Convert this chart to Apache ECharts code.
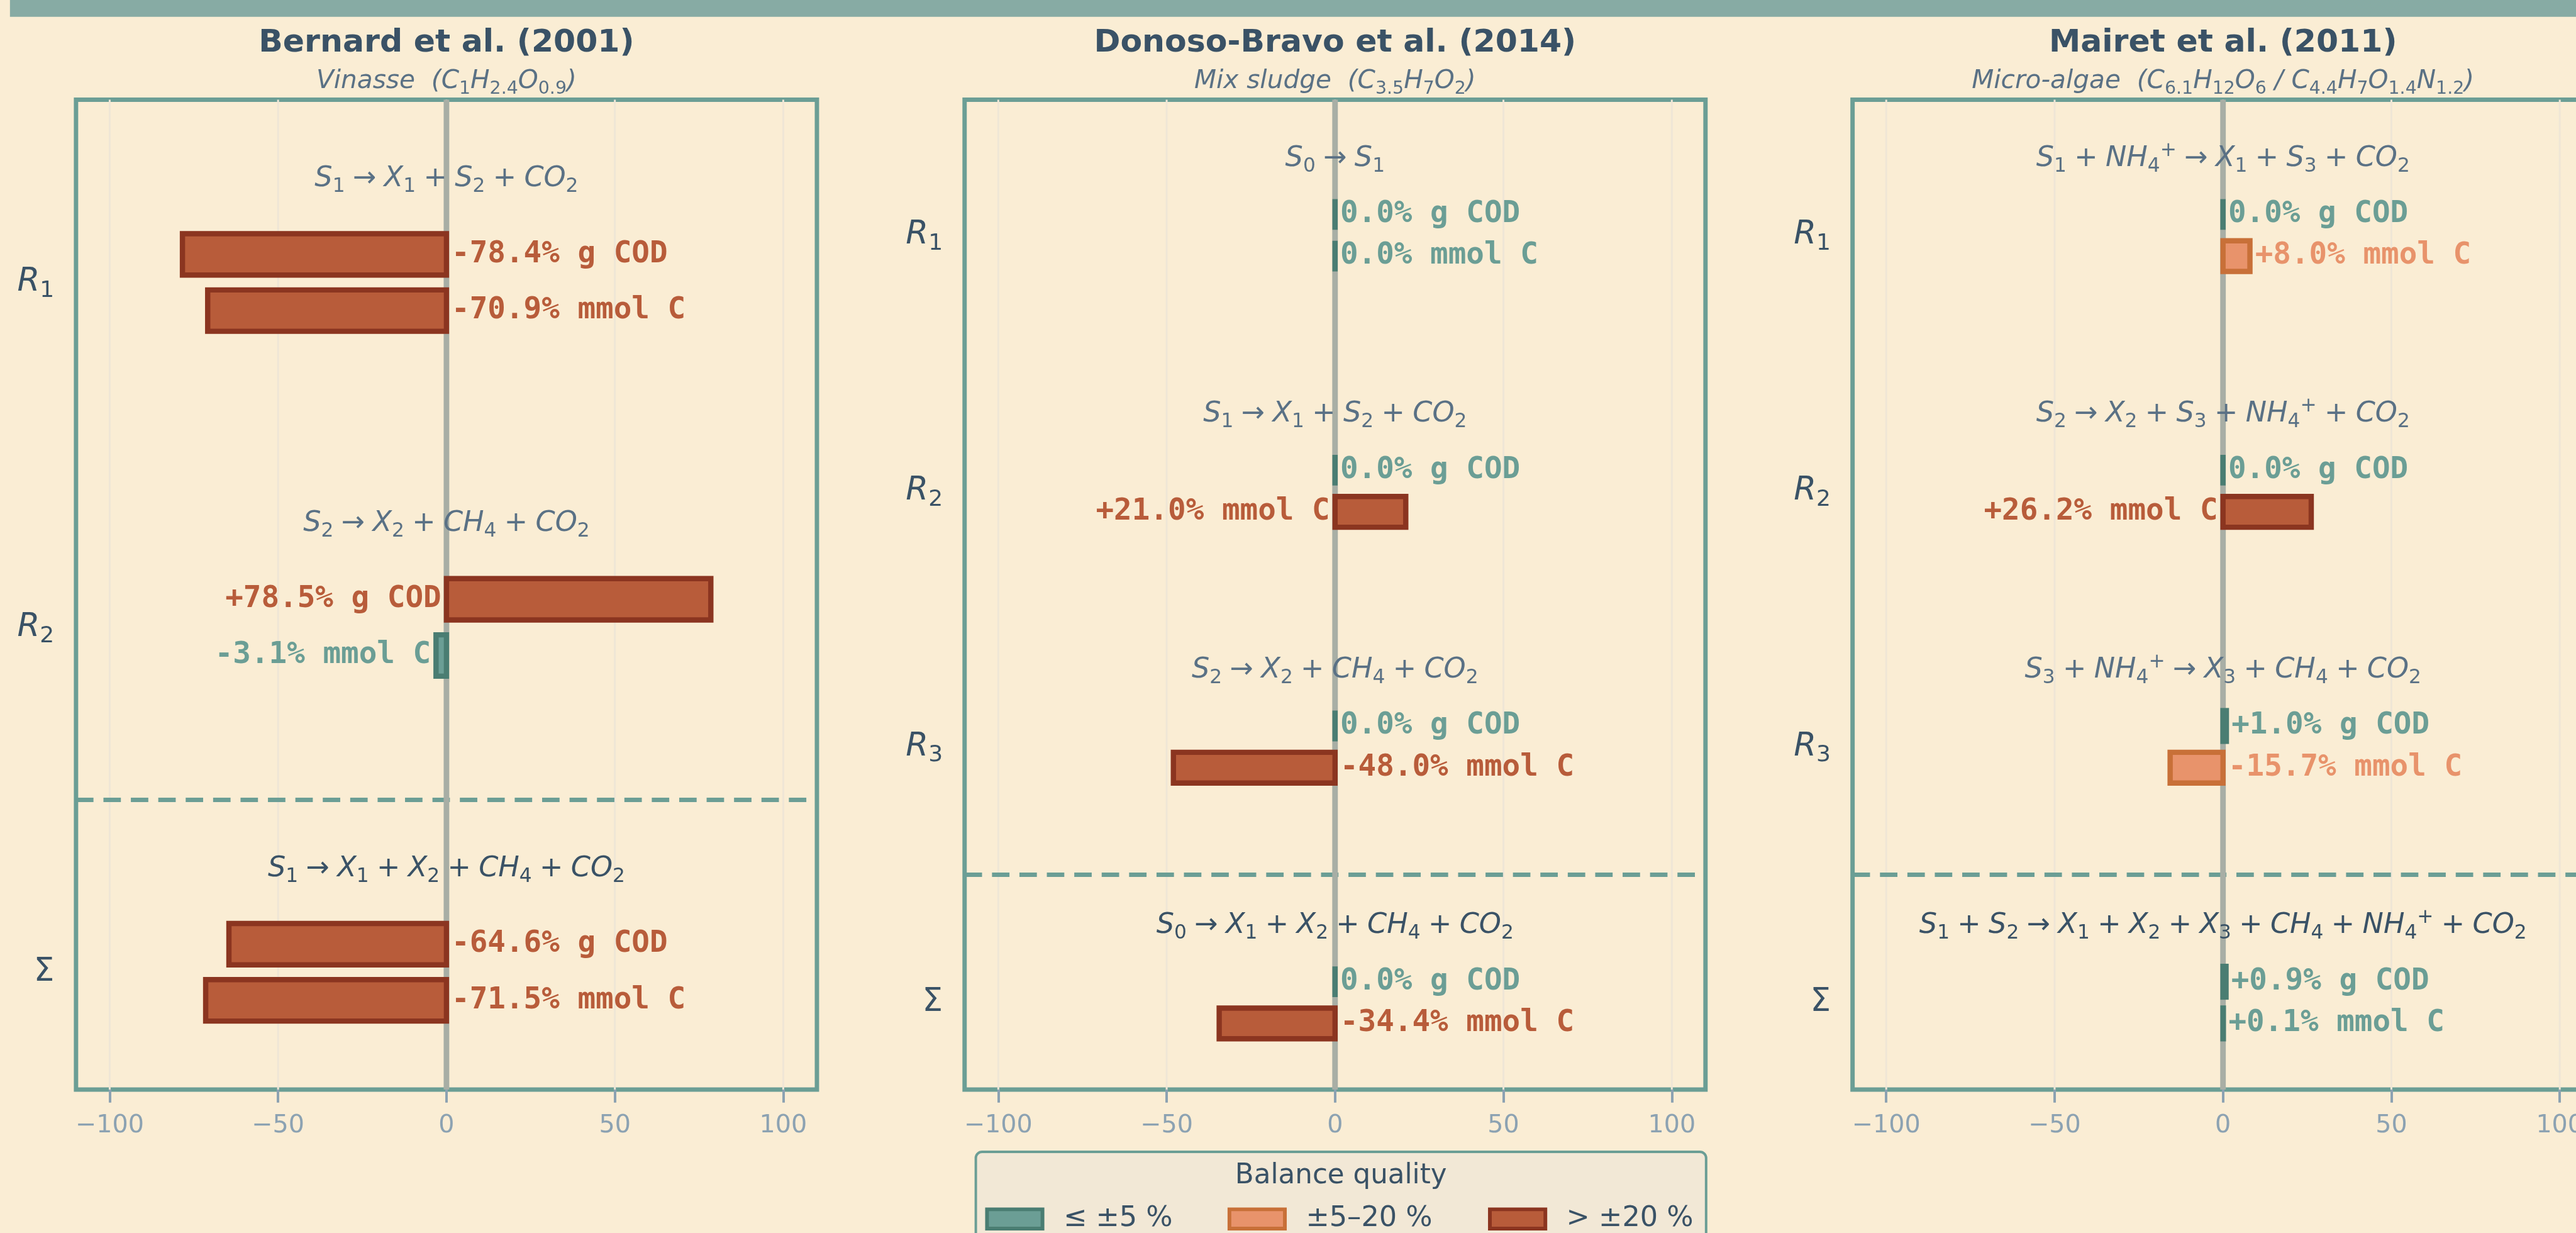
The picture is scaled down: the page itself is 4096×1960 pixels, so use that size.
<!DOCTYPE html>
<html>
<head>
<meta charset="utf-8">
<script src="https://cdn.jsdelivr.net/npm/echarts@6/dist/echarts.min.js"></script>
<style>
  html, body { margin: 0; padding: 0; background: #faedd4; }
  #chart { width: 4096px; height: 1960px; }
</style>
</head>
<body>
<div id="chart"></div>
<script>
// reference was 4134 px wide, window is 4096
const S = 4096 / 4134;
const px = v => v * S;

// ---------- data ----------
const studies = ['Bernard et al. (2001)', 'Donoso-Bravo et al. (2014)', 'Mairet et al. (2011)'];
const substrates = [
  'Vinasse  (C_1H_{2.4}O_{0.9})',
  'Mix sludge  (C_{3.5}H_7O_2)',
  'Micro-algae  (C_{6.1}H_{12}O_6 / C_{4.4}H_7O_{1.4}N_{1.2})'
];
const rowsBernard = ['R_1', 'R_2', 'Σ'];
const rowsDonoso = ['R_1', 'R_2', 'R_3', 'Σ'];
const rowsMairet = ['R_1', 'R_2', 'R_3', 'Σ'];
const reactionsBernard = ['S_1→X_1+S_2+CO_2', 'S_2→X_2+CH_4+CO_2', 'S_1→X_1+X_2+CH_4+CO_2'];
const reactionsDonoso = ['S_0→S_1', 'S_1→X_1+S_2+CO_2', 'S_2→X_2+CH_4+CO_2', 'S_0→X_1+X_2+CH_4+CO_2'];
const reactionsMairet = ['S_1+NH_4^+→X_1+S_3+CO_2', 'S_2→X_2+S_3+NH_4^++CO_2',
  'S_3+NH_4^+→X_3+CH_4+CO_2', 'S_1+S_2→X_1+X_2+X_3+CH_4+NH_4^++CO_2'];
const codBernard = [-78.4, 78.5, -64.6];
const carbonBernard = [-70.9, -3.1, -71.5];
const codDonoso = [0.0, 0.0, 0.0, 0.0];
const carbonDonoso = [0.0, 21.0, -48.0, -34.4];
const codMairet = [0.0, 0.0, 1.0, 0.9];
const carbonMairet = [8.0, 26.2, -15.7, 0.1];
const xTicks = [-100, -50, 0, 50, 100];
const classNames = ['≤ ±5 %', '±5–20 %', '> ±20 %'];

const panels = [
  { rows: rowsBernard, reactions: reactionsBernard, cod: codBernard, carbon: carbonBernard },
  { rows: rowsDonoso, reactions: reactionsDonoso, cod: codDonoso, carbon: carbonDonoso },
  { rows: rowsMairet, reactions: reactionsMairet, cod: codMairet, carbon: carbonMairet }
];

// ---------- style ----------
const BG = '#faedd4';
const FRAME = '#6b9e95';
const DARK = '#3a5266';
const MID = '#5a7185';
const TICK = '#8ca2b2';
const classFill = ['#6b9e95', '#e8936b', '#b85c3a'];
const classEdge = ['#4a7d72', '#c87038', '#8b3520'];
const classText = ['#6b9e95', '#e8936b', '#b85c3a'];
const panelCx = [716.5, 2142.5, 3567.5];
const BAR_H = 0.12;
const BAR_OFF = 0.0815;

function classOf(v) {
  const a = Math.abs(v);
  return a <= 5 ? 0 : (a <= 20 ? 1 : 2);
}

// tiny mathtext -> rich text tokens
function mathRich(src, p, ops) {
  let out = '', i = 0;
  while (i < src.length) {
    const c = src[i];
    if (c === '_' || c === '^') {
      let arg;
      if (src[i + 1] === '{') { const j = src.indexOf('}', i); arg = src.slice(i + 2, j); i = j + 1; }
      else { arg = src[i + 1]; i += 2; }
      out += '{' + p + (c === '_' ? 'b' : 'p') + '|' + arg + '}';
    } else if (ops && (c === '+' || c === '→')) {
      out += '{' + p + 'o|' + c + '}'; i++;
    } else if (c === 'Σ') {
      out += '{' + p + 'u|Σ}'; i++;
    } else {
      let j = i;
      while (j < src.length && !'_^Σ'.includes(src[j]) && !(ops && '+→'.includes(src[j]))) j++;
      out += '{' + p + 'i|' + src.slice(i, j) + '}'; i = j;
    }
  }
  return out;
}

function mathStyles(p, F, color, opPad) {
  const LH = Math.round(F * 1.25);
  const fam = 'DejaVu Sans';
  const st = {};
  st[p + 'i'] = { fontFamily: fam, fontStyle: 'italic', fontSize: F, lineHeight: LH, fill: color };
  st[p + 'u'] = { fontFamily: fam, fontSize: F, lineHeight: LH, fill: color };
  st[p + 'o'] = { fontFamily: fam, fontSize: F, lineHeight: LH, fill: color, padding: [0, opPad, 0, opPad] };
  st[p + 'b'] = { fontFamily: fam, fontSize: F * 0.7, lineHeight: LH - 0.55 * F, verticalAlign: 'bottom', fill: color };
  st[p + 'p'] = { fontFamily: fam, fontSize: F * 0.7, lineHeight: LH - 0.52 * F, verticalAlign: 'top', fill: color };
  return st;
}

const reactRich = Object.assign({},
  mathStyles('r', px(45), MID, px(12.5)),
  mathStyles('k', px(45), DARK, px(12.5)));
const rowRich = mathStyles('w', px(52), DARK, 0);
const subRich = mathStyles('t', px(41), MID, 0);

function fmtPct(v) {
  const s = Math.abs(v).toFixed(1);
  return (v > 0 ? '+' : (v < 0 ? '-' : '')) + s + '%';
}

// ---------- build ----------
const grids = [], xAxes = [], yAxes = [], series = [], graphics = [];

graphics.push({ type: 'rect', shape: { x: px(16), y: 0, width: px(4134), height: px(27) },
  style: { fill: '#87aba4' }, silent: true });

panels.forEach((pn, p) => {
  const n = pn.rows.length;
  const yMin = -0.53, yMax = n - 0.66;
  const cx = panelCx[p];

  grids.push({ left: px(cx - 594.5), top: px(160), width: px(1189), height: px(1588),
    outerBoundsMode: 'none', containLabel: false,
    show: true, borderColor: FRAME, borderWidth: px(7), backgroundColor: 'transparent' });
  xAxes.push({
    type: 'value', gridIndex: p, min: -110, max: 110, position: 'bottom',
    axisLine: { show: false, onZero: false }, splitLine: { show: false },
    axisTick: { customValues: xTicks, length: px(21), lineStyle: { color: TICK, width: px(4) } },
    axisLabel: { customValues: xTicks, margin: px(38), color: TICK, fontSize: px(40),
      fontFamily: 'DejaVu Sans', formatter: v => (v < 0 ? '−' + Math.abs(v) : String(v)) }
  });
  yAxes.push({ type: 'value', gridIndex: p, min: yMin, max: yMax, inverse: true, show: false,
    axisLine: { show: false, onZero: false } });

  graphics.push({ type: 'text', x: px(cx), y: px(70), silent: true,
    style: { text: studies[p], fill: DARK, font: 'bold ' + px(51) + 'px "DejaVu Sans"',
      align: 'center', verticalAlign: 'middle' } });
  graphics.push({ type: 'text', x: px(cx), y: px(131), silent: true,
    style: { text: mathRich(substrates[p], 't', false), rich: subRich,
      align: 'center', verticalAlign: 'middle' } });

  const axisIdx = { xAxisIndex: p, yAxisIndex: p };

  // faint vertical grid lines
  series.push(Object.assign({
    type: 'custom', z: 1, silent: true,
    data: xTicks.map(v => [v, yMin]),
    renderItem: (params, api) => {
      const a = api.coord([api.value(0), yMin]);
      const b = api.coord([api.value(0), yMax]);
      return { type: 'line', shape: { x1: a[0], y1: a[1], x2: b[0], y2: b[1] },
        style: { stroke: '#efe6d6', lineWidth: px(3) } };
    }
  }, axisIdx));

  // separator before the overall row
  series.push(Object.assign({
    type: 'custom', z: 2, silent: true,
    data: [[0, n - 1.5]],
    renderItem: (params, api) => {
      const a = api.coord([-110, api.value(1)]);
      const b = api.coord([110, api.value(1)]);
      return { type: 'line', shape: { x1: a[0], y1: a[1], x2: b[0], y2: b[1] },
        style: { stroke: FRAME, lineWidth: px(7), lineDash: [px(28), px(16)] } };
    }
  }, axisIdx));

  // zero line
  series.push(Object.assign({
    type: 'custom', z: 3, silent: true,
    data: [[0, yMin]],
    renderItem: (params, api) => {
      const a = api.coord([0, yMin]);
      const b = api.coord([0, yMax]);
      return { type: 'line', shape: { x1: a[0], y1: a[1], x2: b[0], y2: b[1] },
        style: { stroke: '#a8aea5', lineWidth: px(9) } };
    }
  }, axisIdx));

  // bars, one series per quality class
  const items = [];
  pn.rows.forEach((r, i) => {
    items.push({ v: pn.cod[i], y: i - BAR_OFF, unit: 'g COD' });
    items.push({ v: pn.carbon[i], y: i + BAR_OFF, unit: 'mmol C' });
  });
  classNames.forEach((name, k) => {
    series.push(Object.assign({
      type: 'custom', name, z: 4,
      itemStyle: { color: classFill[k], borderColor: classEdge[k], borderWidth: px(6) },
      data: items.filter(d => classOf(d.v) === k).map(d => [d.v, d.y]),
      renderItem: (params, api) => {
        const a = api.coord([0, api.value(1) - BAR_H / 2]);
        const b = api.coord([api.value(0), api.value(1) + BAR_H / 2]);
        return { type: 'rect',
          shape: { x: Math.min(a[0], b[0]), y: Math.min(a[1], b[1]),
            width: Math.abs(b[0] - a[0]), height: Math.abs(b[1] - a[1]) },
          style: { fill: classFill[k], stroke: classEdge[k], lineWidth: px(8.5) } };
      }
    }, axisIdx));
  });

  // value labels
  series.push(Object.assign({
    type: 'custom', z: 5, silent: true,
    data: items.map(d => [d.v, d.y]),
    renderItem: (params, api) => {
      const d = items[params.dataIndex];
      const pad = px(4.25 + 4);
      let x, align;
      if (Math.abs(d.v) >= 10) {
        x = api.coord([0, d.y])[0] + (d.v < 0 ? pad : -pad);
        align = d.v < 0 ? 'left' : 'right';
      } else {
        x = api.coord([d.v, d.y])[0] + (d.v < 0 ? -pad : pad);
        align = d.v < 0 ? 'right' : 'left';
      }
      const y = api.coord([0, d.y])[1];
      return { type: 'text', x, y,
        style: { text: fmtPct(d.v) + ' ' + d.unit, fill: classText[classOf(d.v)],
          font: 'bold ' + px(48) + 'px "DejaVu Sans Mono"', align, verticalAlign: 'middle' } };
    }
  }, axisIdx));

  // reaction equations above each pair of bars
  series.push(Object.assign({
    type: 'custom', z: 5, silent: true,
    data: pn.reactions.map((r, i) => [0, i - 0.3]),
    renderItem: (params, api) => {
      const i = params.dataIndex;
      const c = api.coord([0, api.value(1)]);
      const pre = i === n - 1 ? 'k' : 'r';
      return { type: 'text', x: c[0], y: c[1],
        style: { text: mathRich(pn.reactions[i], pre, true), rich: reactRich,
          align: 'center', verticalAlign: 'middle' } };
    }
  }, axisIdx));

  // row names on the left
  series.push(Object.assign({
    type: 'custom', z: 5, silent: true,
    data: pn.rows.map((r, i) => [-110, i]),
    renderItem: (params, api) => {
      const c = api.coord([-110, api.value(1)]);
      return { type: 'text', x: c[0] - px(35), y: c[1],
        style: { text: mathRich(pn.rows[params.dataIndex], 'w', false), rich: rowRich,
          align: 'right', verticalAlign: 'middle' } };
    }
  }, axisIdx));
});

// legend frame + title
graphics.push({ type: 'rect', z: -1, silent: true,
  shape: { x: px(1566), y: px(1848), width: px(1172), height: px(260), r: px(10) },
  style: { fill: '#f2e8d6', stroke: FRAME, lineWidth: px(4) } });
graphics.push({ type: 'text', silent: true, x: px(2152), y: px(1887),
  style: { text: 'Balance quality', fill: DARK, font: px(44) + 'px "DejaVu Sans"',
    align: 'center', verticalAlign: 'middle' } });

const legendLeft = [1581, 1970, 2388];
const legends = classNames.map((name, k) => ({
  data: [{ name, itemStyle: { color: classFill[k], borderColor: classEdge[k], borderWidth: px(6) } }],
  left: px(legendLeft[k]), top: px(1933), padding: 0,
  icon: 'rect', itemWidth: px(89), itemHeight: px(31), selectedMode: false,
  formatter: '  {name}',
  textStyle: { color: DARK, fontSize: px(45), fontFamily: 'DejaVu Sans' }
}));

const chart = echarts.init(document.getElementById('chart'));
chart.setOption({
  backgroundColor: BG,
  animation: false,
  grid: grids,
  xAxis: xAxes,
  yAxis: yAxes,
  legend: legends,
  graphic: graphics,
  series: series
});
</script>
</body>
</html>
